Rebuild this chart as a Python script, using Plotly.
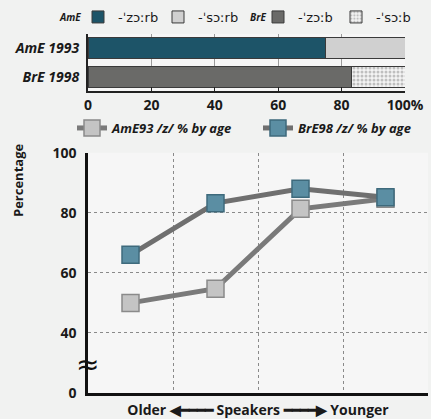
import plotly.graph_objects as go

# ---------------- data ----------------
bar_rows = ["AmE 1993", "BrE 1998"]
ame_z = 75      # AmE -'zɔːrb
ame_s = 25      # AmE -'sɔːrb
bre_z = 83      # BrE -'zɔːb
bre_s = 17      # BrE -'sɔːb
bar_ticks = [0, 20, 40, 60, 80, 100]
bar_ticktext = ["0", "20", "40", "60", "80", "100%"]

age_groups = ["oldest", "older", "younger", "youngest"]
ame93 = [50, 54.7, 81.3, 84.7]
bre98 = [66, 83.2, 88, 85.2]
y_ticks = [20, 40, 60, 80, 100]
y_ticktext = ["0", "40", "60", "80", "100"]

W, H = 431, 419
FONT = "Open Sans"

fig = go.Figure()

outline = dict(color="#3a3a3a", width=1)
fig.add_trace(go.Bar(y=[bar_rows[0]], x=[ame_z], orientation="h", name="-ˈzɔːrb",
                     marker=dict(color="#1d5468", line=outline), legend="legend2",
                     xaxis="x", yaxis="y"))
fig.add_trace(go.Bar(y=[bar_rows[0]], x=[ame_s], orientation="h", name="-ˈsɔːrb",
                     marker=dict(color="#d0d0d0", line=outline), legend="legend2",
                     xaxis="x", yaxis="y"))
fig.add_trace(go.Bar(y=[bar_rows[1]], x=[bre_z], orientation="h", name="-ˈzɔːb",
                     marker=dict(color="#6a6a68", line=outline), legend="legend3",
                     xaxis="x", yaxis="y"))
fig.add_trace(go.Bar(y=[bar_rows[1]], x=[bre_s], orientation="h", name="-ˈsɔːb",
                     marker=dict(color="#f4f4f4", line=outline,
                                 pattern=dict(shape=".", fgcolor="#8a8a8a", bgcolor="#f4f4f4",
                                              size=4, solidity=0.45)),
                     legend="legend3", xaxis="x", yaxis="y"))

fig.add_trace(go.Scatter(x=age_groups, y=ame93, mode="lines+markers", name="AmE93 /z/ % by age",
                         line=dict(color="#7a7a7a", width=5),
                         marker=dict(symbol="square", size=17, color="#c4c4c4",
                                     line=dict(color="#8a8a8a", width=1.5)),
                         xaxis="x2", yaxis="y2", legend="legend", showlegend=True))
fig.add_trace(go.Scatter(x=age_groups, y=bre98, mode="lines+markers", name="BrE98 /z/ % by age",
                         line=dict(color="#6f6f6f", width=5),
                         marker=dict(symbol="square", size=17, color="#5b8ea3",
                                     line=dict(color="#3e6a7c", width=1.5)),
                         xaxis="x2", yaxis="y2", legend="legend4", showlegend=True))

bold = dict(family=FONT, size=14, color="#1a1a1a", weight="bold")
small_it = dict(family=FONT, size=10, color="#1a1a1a", weight="bold", style="italic")
leg_line_font = dict(family=FONT, size=13, color="#1a1a1a", weight="bold", style="italic")
ipa_font = dict(family="DejaVu Sans", size=13, color="#1a1a1a")


def hleg(x, y, font, **kw):
    return dict(orientation="h", x=x / W, y=1 - y / H, xanchor="left", yanchor="middle",
                bgcolor="rgba(0,0,0,0)", traceorder="normal", font=font, visible=True, **kw)


fig.update_layout(
    width=W, height=H,
    showlegend=True,
    margin=dict(l=0, r=0, t=0, b=0, autoexpand=False),
    paper_bgcolor="#f1f2f1",
    plot_bgcolor="#f6f6f6",
    barmode="stack",
    bargap=0.28,
    xaxis=dict(domain=[88 / W, 405 / W], range=[0, 100], tickvals=bar_ticks, ticktext=bar_ticktext,
               showgrid=True, gridcolor="#9a9a9a", gridwidth=1,
               showline=True, linecolor="#222", linewidth=2,
               ticks="inside", ticklen=4, tickcolor="#222",
               tickfont=bold, anchor="y", zeroline=False),
    yaxis=dict(domain=[1 - 91 / H, 1 - 34 / H], type="category", categoryorder="array",
               categoryarray=bar_rows[::-1], showline=True, linecolor="#222", linewidth=2,
               tickfont=dict(family=FONT, size=14, color="#1a1a1a", weight="bold", style="italic"),
               ticklabelstandoff=4, anchor="x", showgrid=False),
    xaxis2=dict(domain=[88 / W, 428 / W], type="category", categoryorder="array",
                categoryarray=age_groups, range=[-0.5, 3.5], tickson="boundaries",
                showticklabels=False, ticks="", showgrid=True, gridcolor="#8a8a8a",
                griddash="dot", gridwidth=1, showline=True, linecolor="#111", linewidth=2.5,
                anchor="y2",
                title=dict(text="Older ◀━━━━ Speakers ━━━━▶ Younger", standoff=15,
                           font=dict(family=FONT, size=14, color="#1a1a1a", weight="bold"))),
    yaxis2=dict(domain=[1 - 393 / H, 1 - 152.7 / H], range=[20, 100], tickvals=y_ticks,
                ticktext=y_ticktext, showgrid=True, gridcolor="#8a8a8a", griddash="dot",
                gridwidth=1, showline=True, linecolor="#111", linewidth=2.5, zeroline=False,
                tickfont=bold, ticklabelstandoff=6, anchor="x2"),
    legend=hleg(72, 128, leg_line_font),
    legend4=hleg(258, 128, leg_line_font),
    legend2=hleg(78, 17, ipa_font, entrywidth=35),
    legend3=hleg(258, 17, ipa_font, entrywidth=33),
    annotations=[
        dict(text="AmE", x=70 / W, y=1 - 17 / H, xref="paper", yref="paper", showarrow=False,
             xanchor="center", yanchor="middle", font=small_it),
        dict(text="BrE", x=258 / W, y=1 - 17 / H, xref="paper", yref="paper", showarrow=False,
             xanchor="center", yanchor="middle", font=small_it),
        dict(text="Percentage", textangle=-90, x=18 / W, y=1 - 181 / H, xref="paper", yref="paper",
             showarrow=False, xanchor="center", yanchor="middle",
             font=dict(family=FONT, size=13, color="#1a1a1a", weight="bold")),
        dict(text="≈", x=87 / W, y=1 - 364 / H, xref="paper", yref="paper", showarrow=False,
             xanchor="center", yanchor="middle",
             font=dict(family="DejaVu Sans", size=28, color="#111")),
    ],
)

fig.write_html("out.html", config={"displayModeBar": False},
               post_script="document.body.style.margin='0';")
